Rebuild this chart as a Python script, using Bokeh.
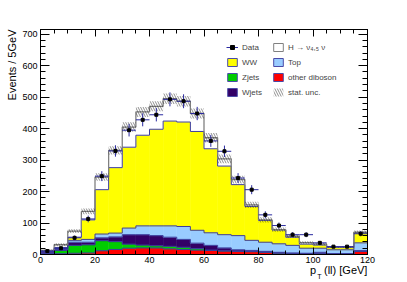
import numpy as np
from bokeh.plotting import figure
from bokeh.models import (Range1d, LinearAxis, SingleIntervalTicker, FixedTicker,
                          Legend, LegendItem, Title)
from bokeh.embed import file_html
from bokeh.resources import INLINE

# ---------------- data ----------------
bin_edges = list(range(0, 125, 5))          # 24 bins of 5 GeV, 0..120
data_counts = [11, 20, 53, 113, 249, 329, 395, 428, 444, 493, 487, 448,
               361, 328, 243, 206, 126, 92, 63, 63, 37, 25, 25, 66]
other_diboson = [1.5, 2.5, 4, 5, 12, 16, 20, 21, 21, 18, 16, 14,
                 13, 11, 10, 9, 7, 4, 2, 2, 2, 1, 1, 10]
zjets = [1.5, 10.5, 25, 26, 32, 25, 13, 9, 7, 8, 7, 5,
         1, 1, 1, 1, 1, 1, 1, 1, 1, 1, 1, 1]
wjets = [5, 3, 10, 8, 9, 15, 30, 33, 32, 29, 25, 17,
         15, 9, 4, 3, 2, 2, 2, 1, 4, 1, 1, 1]
top = [2, 3, 6, 9, 12, 12, 21, 28, 31, 36, 41, 41,
       40, 42, 45, 32, 29, 27, 24, 16, 13, 12, 12, 25]
ww = [1, 3, 10, 62, 141, 208, 257, 288, 307, 333, 332, 314,
      267, 218, 162, 108, 69, 44, 26, 13, 10, 7, 7, 33]
higgs = [2, 9, 19, 27, 40, 55, 64, 74, 73, 71, 66, 57,
         35, 23, 16, 5, 2, 1, 3, 5, 3, 2, 2, 1]
stat_unc = [3, 5, 6, 9, 12, 13, 15, 16, 16, 17, 17, 16,
            15, 14, 12, 10, 8, 7, 5, 4, 4, 3, 3, 5]

y_title = "Events / 5GeV"
x_title_main = {100: "p", 112: "(ll) [GeV]"}   # text anchored at these x values
x_title_sub = {102.3: "T"}
higgs_label = "H \u2192 \u03bd\u2084,\u2085 \u03bd"

# stacking order (bottom -> top)
components = [
    ("other diboson", other_diboson, "#ff0000"),
    ("Zjets", zjets, "#00cc00"),
    ("Wjets", wjets, "#330066"),
    ("Top", top, "#99ccff"),
    ("WW", ww, "#ffff00"),
    ("H", higgs, "#ffffff"),
]

FONT = "Liberation Sans"
edges = np.array(bin_edges, dtype=float)
left = edges[:-1]
right = edges[1:]
centers = 0.5 * (left + right)

p = figure(width=407, height=282, x_range=Range1d(0, 120), y_range=Range1d(0, 715),
           output_backend="svg", toolbar_location=None,
           x_axis_type=None, y_axis_type=None,
           min_border_left=40, min_border_right=40, min_border_top=29, min_border_bottom=28)
p.outline_line_color = "black"
p.outline_line_width = 1
p.background_fill_color = "white"
p.border_fill_color = "white"

# ---------------- stack ----------------
bottom = np.zeros(len(left))
tops = []
for name, vals, col in components:
    v = np.array(vals, dtype=float)
    p.quad(left=left, right=right, bottom=bottom, top=bottom + v,
           fill_color=col, line_color=col, line_width=0.5)
    bottom = bottom + v
    tops.append((name, bottom.copy()))

line_blue = "#3c3c9c"
for name, cum in tops:
    is_h = name == "H"
    p.step(x=edges, y=np.append(cum, cum[-1]), mode="after",
           line_color="#808080" if is_h else line_blue,
           line_width=1.3 if is_h else 1.0)

total = tops[-1][1]
unc = np.array(stat_unc, dtype=float)
p.quad(left=left, right=right, bottom=total - unc, top=total + unc,
       fill_alpha=0, line_alpha=0, hatch_pattern="\\", hatch_color="#222222",
       hatch_scale=5, hatch_weight=0.6, hatch_alpha=0.85)

# ---------------- data ----------------
d = np.array(data_counts, dtype=float)
err = np.sqrt(d)
err_col = "#2a2aa0"
hseg = p.segment(x0=left, x1=right, y0=d, y1=d, line_color=err_col, line_width=1)
vseg = p.segment(x0=centers, x1=centers, y0=d - err, y1=d + err, line_color=err_col, line_width=1)
pts = p.scatter(x=centers, y=d, marker="square", size=3, color="black")

# ---------------- axes (ROOT style, ticks inside) ----------------
def make_axis(interval, nminor, labels, maj_len, min_len):
    ax = LinearAxis(ticker=SingleIntervalTicker(interval=interval, num_minor_ticks=nminor))
    ax.major_tick_in = maj_len
    ax.major_tick_out = 0
    ax.minor_tick_in = min_len
    ax.minor_tick_out = 0
    ax.axis_line_color = "black"
    ax.major_tick_line_color = "black"
    ax.minor_tick_line_color = "black"
    ax.major_label_text_font = FONT
    ax.major_label_text_font_size = "9px"
    ax.major_label_text_color = "black" if labels else None
    return ax

xb = make_axis(20, 4, True, 7, 4)
xb.major_label_standoff = 2
yl = make_axis(100, 5, True, 9, 5)
yl.major_label_standoff = 3
xt = make_axis(20, 4, False, 7, 4)
yr = make_axis(100, 5, False, 9, 5)
p.add_layout(xb, "below")
p.add_layout(yl, "left")
p.add_layout(xt, "above")
p.add_layout(yr, "right")

# x-axis title "p_T(ll) [GeV]", right-aligned at the axis end (ROOT style):
# written as label rows below the axis so that it is never clipped
def title_axis(mapping, size, standoff):
    ax = LinearAxis(ticker=FixedTicker(ticks=list(mapping.keys()), minor_ticks=[]))
    ax.major_label_overrides = dict(mapping)
    ax.axis_line_color = None
    ax.major_tick_line_color = None
    ax.minor_tick_line_color = None
    ax.major_tick_in = 0
    ax.major_tick_out = 0
    ax.minor_tick_in = 0
    ax.minor_tick_out = 0
    ax.major_label_text_font = FONT
    ax.major_label_text_font_size = size
    ax.major_label_text_color = "black"
    ax.major_label_standoff = standoff
    return ax

p.add_layout(title_axis(x_title_main, "11px", -2), "below")
p.add_layout(title_axis(x_title_sub, "7px", -6), "below")

# y-axis title, right-aligned at the top of the axis
p.add_layout(Title(text=y_title, align="right", text_font=FONT, text_font_size="11px",
                   text_font_style="normal", text_color="black", standoff=3), "left")

# ---------------- legend ----------------
nan = [float("nan")]

def legend_box(fill, line, **kw):
    return p.quad(left=nan, right=nan, top=nan, bottom=nan, fill_color=fill,
                  line_color=line, line_width=1, **kw)

lb_h = legend_box("#ffffff", "#808080")
lb_ww = legend_box("#ffff00", "#4a4aa8")
lb_top = legend_box("#99ccff", "#4a4aa8")
lb_z = legend_box("#00cc00", "#4a4aa8")
lb_od = legend_box("#ff0000", "#4a4aa8")
lb_w = legend_box("#330066", "#4a4aa8")
lb_unc = p.quad(left=nan, right=nan, top=nan, bottom=nan, fill_alpha=0, line_alpha=0,
                hatch_pattern="\\", hatch_color="#222222", hatch_scale=5,
                hatch_weight=0.6, hatch_alpha=0.85)

items = [
    LegendItem(label="Data", renderers=[hseg, pts]),
    LegendItem(label="WW", renderers=[lb_ww]),
    LegendItem(label="Zjets", renderers=[lb_z]),
    LegendItem(label="Wjets", renderers=[lb_w]),
    LegendItem(label=higgs_label, renderers=[lb_h]),
    LegendItem(label="Top", renderers=[lb_top]),
    LegendItem(label="other diboson", renderers=[lb_od]),
    LegendItem(label="stat. unc.", renderers=[lb_unc]),
]
legend = Legend(items=items, location=(186, 157), orientation="vertical", nrows=4,
                glyph_width=12, glyph_height=10, label_height=10, label_width=25,
                spacing=5, padding=0, margin=0, label_standoff=4,
                label_text_font=FONT, label_text_font_size="8px",
                background_fill_alpha=0, border_line_alpha=0)
p.add_layout(legend)

open("out.html", "w").write(file_html(p, INLINE))
